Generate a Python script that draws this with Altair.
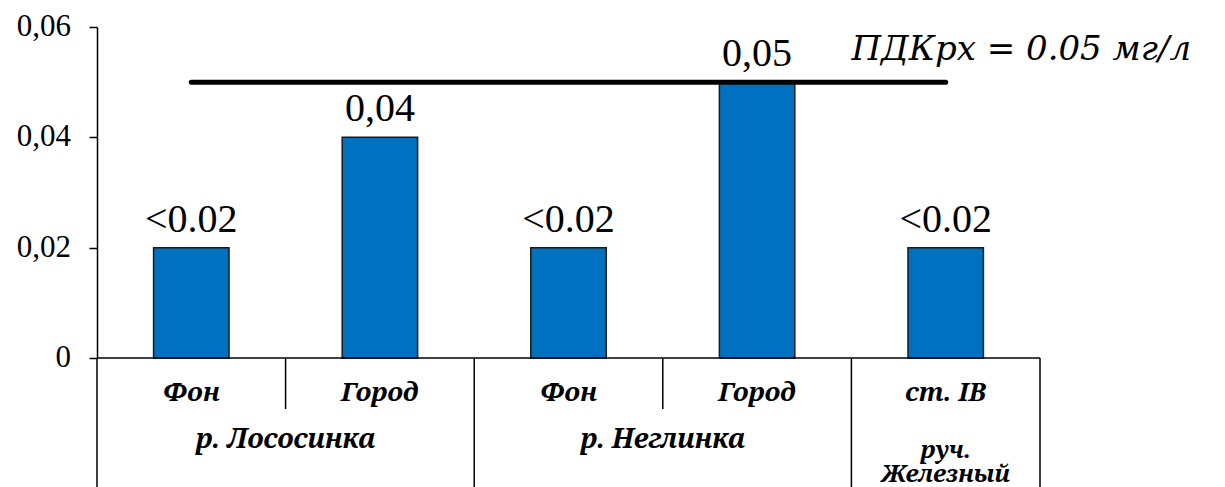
import altair as alt
import pandas as pd

categories = ["Фон", "Город", "Фон", "Город", "ст. IB"]
groups = ["р. Лососинка", "р. Лососинка", "р. Неглинка", "р. Неглинка", "руч.\nЖелезный"]
values = [0.02, 0.04, 0.02, 0.05, 0.02]
bar_labels = ["<0.02", "0,04", "<0.02", "0,05", "<0.02"]
pdk_value = 0.05
pdk_label = "ПДКрх = 0.05 мг/л"
y_ticks = [0, 0.02, 0.04, 0.06]
y_tick_labels = ["0", "0,02", "0,04", "0,06"]

W, H = 943, 331
FONT = "Liberation Serif"
FONT_IT = "Noto Serif"
FONT_PDK = "DejaVu Serif"
BLUE = "#0070C0"

n = len(categories)
bars_df = pd.DataFrame({"idx": list(range(n)), "cat": categories, "value": values, "label": bar_labels})
ticks_df = pd.DataFrame({"v": y_ticks, "label": y_tick_labels, "x": [0] * len(y_ticks)})

spans = []
start = 0
for i in range(1, n + 1):
    if i == n or groups[i] != groups[start]:
        spans.append((groups[start], start, i))
        start = i
group_df = pd.DataFrame([
    {"text": g.split("\n"), "center": (s + e) / 2, "nlines": len(g.split("\n"))}
    for g, s, e in spans
])

bnd_rows = []
for b in range(n + 1):
    long_ = b == 0 or b == n or groups[b - 1] != groups[b]
    bnd_rows.append({"b": b, "long": long_})
bnd_df = pd.DataFrame(bnd_rows)

xs = alt.Scale(domain=[0, n], nice=False, zero=False)
ys = alt.Scale(domain=[0, 0.06], nice=False)

yaxis = alt.Axis(
    values=y_ticks, labels=False,
    tickColor="black", domainColor="black", tickSize=8, tickWidth=1.5,
    domainWidth=1.5, grid=False, title=None,
)

base = alt.Chart(bars_df)

bars = base.mark_bar(color=BLUE, stroke="#1a1a1a", strokeWidth=1.5).transform_calculate(
    x0="datum.idx + 0.3", x1="datum.idx + 0.7"
).encode(
    x=alt.X("x0:Q", scale=xs, axis=None),
    x2="x1:Q",
    y=alt.Y("value:Q", scale=ys, axis=yaxis),
    y2=alt.datum(0),
)

tick_text = alt.Chart(ticks_df).mark_text(
    font=FONT, fontSize=31, align="right", baseline="middle", dx=-26, color="black"
).encode(x=alt.X("x:Q", scale=xs), y=alt.Y("v:Q", scale=ys), text="label:N")

bar_text = base.mark_text(font=FONT, fontSize=40, baseline="alphabetic", dy=-16, color="black").transform_calculate(
    xc="datum.idx + 0.5"
).encode(
    x=alt.X("xc:Q", scale=xs),
    y=alt.Y("value:Q", scale=ys),
    text="label:N",
)

pdk_df = pd.DataFrame({"v": [pdk_value], "label": [pdk_label], "a": [0.5], "b": [n - 0.5], "t": [n - 1]})
pdk_rule = alt.Chart(pdk_df).mark_rule(color="black", strokeWidth=5, strokeCap="round").encode(
    x=alt.X("a:Q", scale=xs), x2="b:Q", y=alt.Y("v:Q", scale=ys)
)
pdk_text = alt.Chart(pdk_df).mark_text(
    font=FONT_PDK, fontSize=34, fontStyle="italic", align="left", baseline="alphabetic", dy=-22, color="black"
).encode(x=alt.X("t:Q", scale=xs), y=alt.Y("v:Q", scale=ys), text="label:N")

base_df = pd.DataFrame({"a": [0], "b": [n], "v": [0]})
x_line = alt.Chart(base_df).mark_rule(color="black", strokeWidth=1.5).encode(
    x=alt.X("a:Q", scale=xs), x2="b:Q", y=alt.Y("v:Q", scale=ys)
)

sep_long = alt.Chart(bnd_df).transform_filter("datum.long").mark_rule(color="black", strokeWidth=1.5).encode(
    x=alt.X("b:Q", scale=xs), y=alt.value(H), y2=alt.value(470)
)
sep_short = alt.Chart(bnd_df).transform_filter("!datum.long").mark_rule(color="black", strokeWidth=1.5).encode(
    x=alt.X("b:Q", scale=xs), y=alt.value(H), y2=alt.value(382)
)

cat_text = base.mark_text(
    font=FONT_IT, fontSize=26, fontStyle="italic", fontWeight="bold", baseline="alphabetic", color="black"
).transform_calculate(xc="datum.idx + 0.5").encode(
    x=alt.X("xc:Q", scale=xs), y=alt.value(374), text="cat:N"
)

grp_single = alt.Chart(group_df).transform_filter("datum.nlines == 1").mark_text(
    font=FONT_IT, fontSize=27, fontStyle="italic", fontWeight="bold", baseline="alphabetic", color="black"
).encode(x=alt.X("center:Q", scale=xs), y=alt.value(421), text="text")

grp_multi = alt.Chart(group_df).transform_filter("datum.nlines > 1").mark_text(
    font=FONT_IT, fontSize=24, fontStyle="italic", fontWeight="bold", baseline="alphabetic",
    lineHeight=24, color="black"
).encode(x=alt.X("center:Q", scale=xs), y=alt.value(431), text="text")

chart = alt.layer(
    bars, tick_text, bar_text, pdk_rule, pdk_text, x_line, sep_long, sep_short, cat_text, grp_single, grp_multi
).properties(
    width=W, height=H,
    padding={"left": 97, "top": 27, "right": 185, "bottom": 129},
    autosize="none",
).configure_view(stroke=None)

chart.save("out.html", embed_options={"renderer": "svg", "actions": False})
